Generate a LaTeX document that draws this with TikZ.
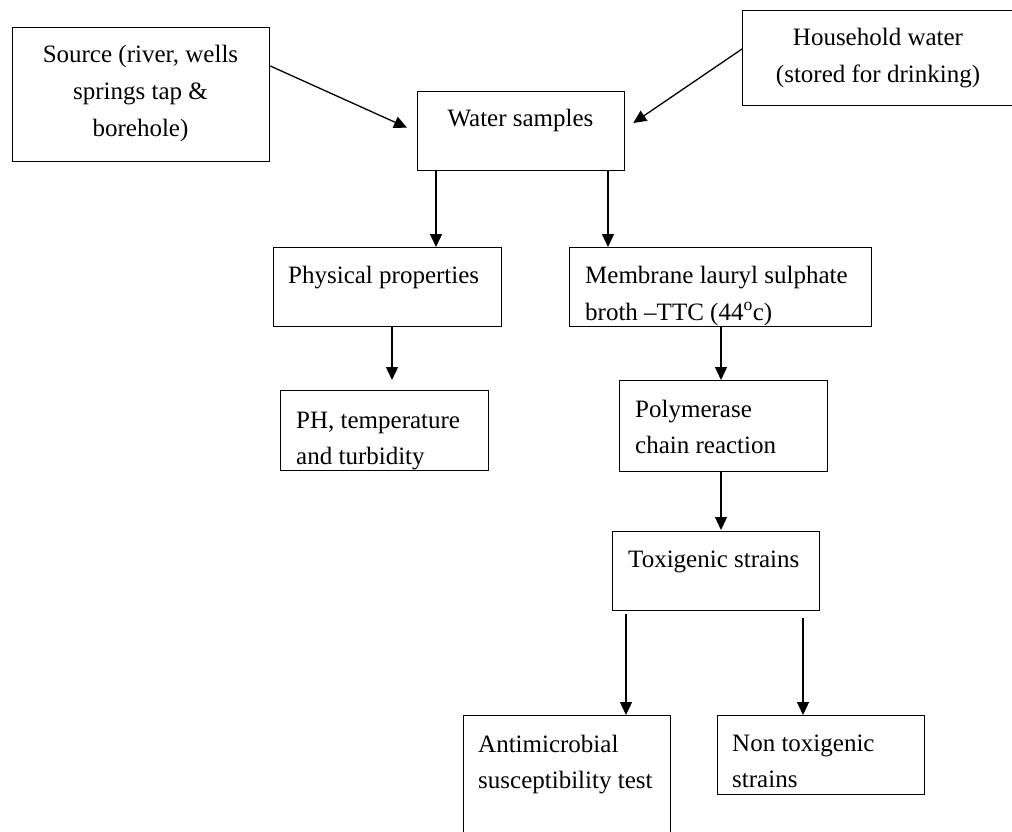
\documentclass[tikz,border=0pt]{standalone}
\usepackage{fontspec}
\setmainfont{Liberation Serif}
\usetikzlibrary{arrows.meta,calc}
\begin{document}
\begin{tikzpicture}[x=1pt,y=-1pt,
  box/.style={draw, line width=1.3pt, inner sep=0pt, anchor=north west},
  txt/.style={inner sep=0pt, font=\fontsize{25}{37.5}\selectfont},
  ltxt/.style={txt, anchor=base west},
  ctxt/.style={txt, anchor=base},
  arr/.style={line width=1.3pt, -{Triangle[length=13pt,width=12pt]}}]
\useasboundingbox (0,0) rectangle (1012,832);
% boxes
\node[box, minimum width=257pt, minimum height=134pt] (src) at (12,27) {};
\node[box, minimum width=272pt, minimum height=95pt] (hh) at (742,10) {};
\node[box, minimum width=207pt, minimum height=79pt] (ws) at (417,91) {};
\node[box, minimum width=228pt, minimum height=79pt] (phys) at (273,247) {};
\node[box, minimum width=302pt, minimum height=79pt] (memb) at (569,247) {};
\node[box, minimum width=208pt, minimum height=80pt] (ph) at (280,390) {};
\node[box, minimum width=208pt, minimum height=91pt] (poly) at (619,380) {};
\node[box, minimum width=207pt, minimum height=79pt] (tox) at (612,531) {};
\node[box, minimum width=207pt, minimum height=135pt] (anti) at (463,715) {};
\node[box, minimum width=207pt, minimum height=79pt] (non) at (717,715) {};
% texts
\node[ctxt] (src1) at (140.5,63) {Source (river, wells};
\node[ctxt] (src2) at (140.5,100) {springs tap \&};
\node[ctxt] (src3) at (140.5,137) {borehole)};
\node[ctxt] (hh1) at (878,46) {Household water};
\node[ctxt] (hh2) at (878,83) {(stored for drinking)};
\node[ctxt] (ws1) at (520.5,127) {Water samples};
\node[ltxt] (phys1) at (288,283) {Physical properties};
\node[ltxt] (ph1) at (296,428) {PH, temperature};
\node[ltxt] (ph2) at (296,464) {and turbidity};
\node[ltxt] (memb1) at (585,283) {Membrane lauryl sulphate};
\node[ltxt] (memb2) at (585,320) {broth –TTC (44\textsuperscript{o}c)};
\node[ltxt] (poly1) at (635,417) {Polymerase};
\node[ltxt] (poly2) at (635,453) {chain reaction};
\node[ltxt] (tox1) at (628,567) {Toxigenic strains};
\node[ltxt] (anti1) at (478,752) {Antimicrobial};
\node[ltxt] (anti2) at (478,788) {susceptibility test};
\node[ltxt] (non1) at (732,751) {Non toxigenic};
\node[ltxt] (non2) at (732,787) {strains};
% arrows
\draw[arr] ($(src.north east)+(0,39)$) -- ($(ws.west)+(-10,-3.5)$);
\draw[arr] ($(hh.north west)+(0,39)$) -- ($(ws.north east)+(8,32)$);
\draw[arr] ($(ws.south west)+(19,0)$) -- ($(phys.north west)+(163,0)$);
\draw[arr] ($(ws.south west)+(191,0)$) -- ($(memb.north west)+(39,0)$);
\draw[arr] ($(phys.south west)+(119,0)$) -- ($(ph.north west)+(112,-10)$);
\draw[arr] ($(memb.south west)+(152,0)$) -- ($(poly.north west)+(102,0)$);
\draw[arr] ($(poly.south west)+(102,0)$) -- ($(tox.north west)+(109,-1)$);
\draw[arr] ($(tox.south west)+(14,3)$) -- ($(anti.north west)+(163,0)$);
\draw[arr] ($(tox.south west)+(191,7)$) -- ($(non.north west)+(86,0)$);
\end{tikzpicture}
\end{document}
